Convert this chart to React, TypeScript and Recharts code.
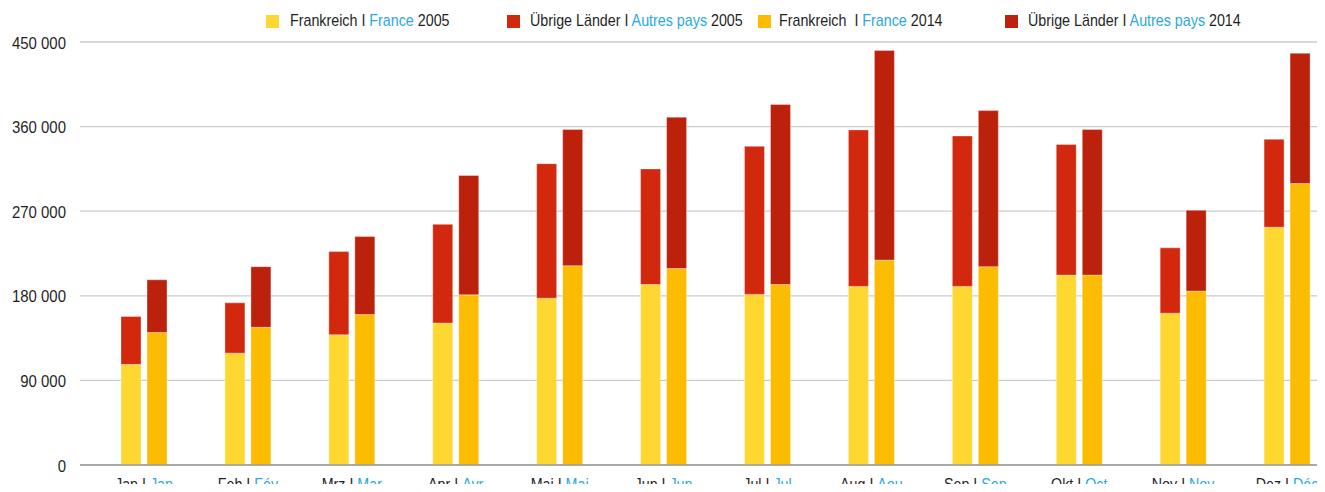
import { BarChart, Bar, XAxis, YAxis, CartesianGrid } from 'recharts';

const monthsDe = ['Jan', 'Feb', 'Mrz', 'Apr', 'Mai', 'Jun', 'Jul', 'Aug', 'Sep', 'Okt', 'Nov', 'Dez'];
const monthsFr = ['Jan', 'Fév', 'Mar', 'Avr', 'Mai', 'Jun', 'Jul', 'Aou', 'Sep', 'Oct', 'Nov', 'Déc'];

const france2005 = [107000, 119000, 138500, 151000, 177500, 192000, 181500, 190000, 190000, 202000, 161500, 253000];
const others2005 = [51000, 53500, 88500, 105000, 143000, 123000, 157500, 166500, 160000, 139000, 69500, 93500];
const france2014 = [141000, 146500, 160000, 181000, 212000, 209000, 192000, 218000, 211000, 202000, 185000, 299500];
const others2014 = [56000, 64500, 83000, 127000, 145000, 161000, 191500, 223000, 166000, 155000, 86000, 138500];

const yTicks = [0, 90000, 180000, 270000, 360000, 450000];

// no condensed font installed, so Liberation Sans gets squeezed horizontally
const FONT = '"Liberation Sans", Arial, sans-serif';
const SQUEEZE = 0.84;
const INK = '#1f1f1f';
const BLUE = '#29a9e1';

const legendItems = [
  { color: '#fed731', de: 'Frankreich I ', fr: 'France', year: ' 2005', left: 266, gap: 11 },
  { color: '#d2280e', de: 'Übrige Länder I ', fr: 'Autres pays', year: ' 2005', left: 507, gap: 10 },
  { color: '#fbbc02', de: 'Frankreich  I ', fr: 'France', year: ' 2014', left: 758, gap: 8 },
  { color: '#bc210c', de: 'Übrige Länder I ', fr: 'Autres pays', year: ' 2014', left: 1005, gap: 10 },
];

const data = monthsDe.map((m, i) => ({
  month: m,
  fr: monthsFr[i],
  france2005: france2005[i],
  others2005: others2005[i],
  france2014: france2014[i],
  others2014: others2014[i],
}));

const XTick = (props: any) => {
  const { x, y, payload, index } = props;
  return (
    <text
      x={0}
      y={0}
      transform={`translate(${x},${y + 16.5}) scale(${SQUEEZE},1)`}
      textAnchor="middle"
      fontFamily={FONT}
      fontSize={17}
      fill={INK}
    >
      <tspan>{payload.value} I </tspan>
      <tspan fill={BLUE}>{monthsFr[index]}</tspan>
    </text>
  );
};

const fmt = (v: number) => (v === 0 ? '0' : `${Math.round(v / 1000)} 000`);

const YTick = (props: any) => {
  const { x, y, payload } = props;
  return (
    <text
      x={0}
      y={0}
      transform={`translate(${x + 1},${y + 6.5}) scale(0.88,1)`}
      textAnchor="end"
      fontFamily={FONT}
      fontSize={17}
      fill={INK}
    >
      {fmt(payload.value)}
    </text>
  );
};

const barStroke = 'rgba(255,255,255,0.35)';

export default function App() {
  return (
    <div style={{ margin: -8, width: 1325, height: 492, overflow: 'hidden', position: 'relative', background: '#fff' }}>
      {legendItems.map((it) => (
        <div
          key={it.left}
          style={{
            position: 'absolute',
            left: it.left,
            top: 11,
            height: 20,
            display: 'flex',
            alignItems: 'center',
            fontFamily: FONT,
            fontSize: 17,
            color: INK,
            whiteSpace: 'pre',
          }}
        >
          <span style={{ width: 13, height: 13, background: it.color, display: 'inline-block', marginRight: it.gap }} />
          <span style={{ display: 'inline-block', transform: `scaleX(${SQUEEZE})`, transformOrigin: 'left center' }}>
            {it.de}
            <span style={{ color: BLUE }}>{it.fr}</span>
            {it.year}
          </span>
        </div>
      ))}
      <BarChart
        width={1339}
        height={492}
        data={data}
        margin={{ top: 42, right: 0, bottom: 0, left: 0 }}
        barSize={20}
        barGap={6}
      >
        <CartesianGrid vertical={false} stroke="#cbcbcb" strokeWidth={1.3} />
        <XAxis
          dataKey="month"
          height={27}
          padding={{ left: 12, right: 0 }}
          tickLine={false}
          axisLine={{ stroke: '#9a9a9a', strokeWidth: 1.5 }}
          tick={<XTick />}
          interval={0}
        />
        <YAxis
          width={80}
          domain={[0, 450000]}
          ticks={yTicks}
          axisLine={false}
          tickLine={false}
          tickMargin={9}
          tick={<YTick />}
        />
        <Bar dataKey="france2005" stackId="a" fill="#fed731" stroke={barStroke} isAnimationActive={false} />
        <Bar dataKey="others2005" stackId="a" fill="#d2280e" stroke={barStroke} isAnimationActive={false} />
        <Bar dataKey="france2014" stackId="b" fill="#fbbc02" stroke={barStroke} isAnimationActive={false} />
        <Bar dataKey="others2014" stackId="b" fill="#bc210c" stroke={barStroke} isAnimationActive={false} />
      </BarChart>
    </div>
  );
}
